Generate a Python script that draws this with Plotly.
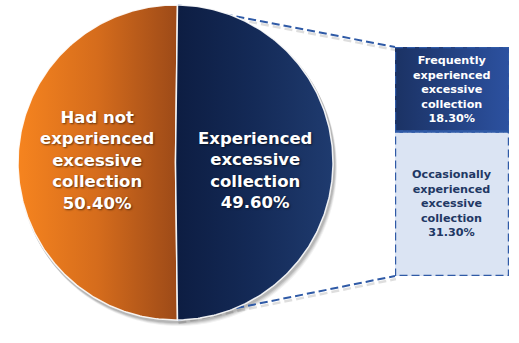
import numpy as np
import plotly.graph_objects as go

# ---- data ----
pie_labels = ["Had not<br>experienced<br>excessive<br>collection",
              "Experienced<br>excessive<br>collection"]
pie_values = [50.40, 49.60]

bar_labels = ["Frequently<br>experienced<br>excessive<br>collection",
              "Occasionally<br>experienced<br>excessive<br>collection"]
bar_values = [18.30, 31.30]

# ---- layout constants (pixels) ----
W, H = 519, 343
CX, CY, R = 175.5, 162.5, 157.5
BAR_LEFT, BAR_RIGHT, BAR_TOP, BAR_BOTTOM = 395, 509, 47, 276

BLUE_LINE = "#2f5aa6"
DASH = "8px,4px"

fig = go.Figure()


def arc(a0, a1, n=240, cx=CX, cy=CY, r=R):
    """Points on the circle, angles in degrees clockwise from 12 o'clock."""
    t = np.radians(np.linspace(a0, a1, n))
    return cx + r * np.sin(t), cy - r * np.cos(t)


# slice angles: the split slice is centred on the right side
total = sum(pie_values)
span_split = pie_values[1] / total * 360.0
a_start = 90 - span_split / 2
a_end = 90 + span_split / 2
slices = [
    (a_end, a_start + 360, ["#f6841f", "#d56c1c", "#9d4a18"]),   # orange slice
    (a_start, a_end, ["#0d1d42", "#142a57", "#1f3b6f"]),          # navy slice
]

# soft drop shadow under the pie
for off, alpha in [(5, 0.05), (4, 0.07), (3, 0.09), (2, 0.10)]:
    sx, sy = arc(0, 360, cx=CX + off * 0.6, cy=CY + off, r=R + 1.0)
    fig.add_trace(go.Scatter(x=sx, y=sy, fill="toself", mode="none",
                             fillcolor=f"rgba(0,0,0,{alpha})",
                             hoverinfo="skip", showlegend=False))

# connector shadows and connectors (pie covers their inner ends)
ends_pie = [arc(a_start, a_start, 1), arc(a_end, a_end, 1)]
bar_corners = [(BAR_LEFT, BAR_TOP), (BAR_LEFT, BAR_BOTTOM)]
for (px, py), (bx, by) in zip(ends_pie, bar_corners):
    fig.add_trace(go.Scatter(x=[px[0] + 1, bx + 1], y=[py[0] + 3, by + 3],
                             mode="lines",
                             line=dict(color="rgba(0,0,0,0.13)", width=2.5, dash=DASH),
                             hoverinfo="skip", showlegend=False))
    fig.add_trace(go.Scatter(x=[px[0], bx], y=[py[0], by], mode="lines",
                             line=dict(color=BLUE_LINE, width=2, dash=DASH),
                             hoverinfo="skip", showlegend=False))

# pie slices with horizontal gradients
for (a0, a1, cols), lab, val in zip(slices, pie_labels, pie_values):
    ax_, ay_ = arc(a0, a1)
    xs = np.concatenate([[CX], ax_, [CX]])
    ys = np.concatenate([[CY], ay_, [CY]])
    fig.add_trace(go.Scatter(
        x=xs, y=ys, fill="toself", mode="lines",
        line=dict(color="rgba(255,255,255,0.9)", width=1.5),
        fillgradient=dict(type="horizontal",
                          colorscale=[[0, cols[0]], [0.5, cols[1]], [1, cols[2]]]),
        name=lab.replace("<br>", " "), hoverinfo="name", showlegend=False))

# pie labels
pie_text_pos = [(97, 160), (255, 170)]
for lab, val, (tx, ty) in zip(pie_labels, pie_values, pie_text_pos):
    fig.add_annotation(
        x=tx, y=ty, xref="x", yref="y", showarrow=False,
        text=f"<b>{lab}<br>{val:.2f}%</b>", align="center",
        font=dict(family="DejaVu Sans", size=16.5, color="white",
                  shadow="1px 1px 2px rgba(0,0,0,0.55)"))

# ---- bar of the split slice (own axes) ----
bar_total = sum(bar_values)
bar_fills = [dict(type="horizontal", colorscale=[[0, "#1b3264"], [1, "#2c51a0"]]),
             None]
bar_solid = [None, "#dbe4f3"]
bar_text_col = ["white", "#1f3864"]

# bar shadow
fig.add_trace(go.Scatter(x=[0.03, 1.03, 1.03, 0.03, 0.03],
                         y=[2, 2, bar_total + 1.2, bar_total + 1.2, 2],
                         xaxis="x2", yaxis="y2", fill="toself", mode="none",
                         fillcolor="rgba(0,0,0,0.12)", hoverinfo="skip",
                         showlegend=False))

base = 0.0
for lab, val, grad, solid, tc in zip(bar_labels, bar_values, bar_fills,
                                     bar_solid, bar_text_col):
    y0, y1 = base, base + val
    kw = dict(fillgradient=grad) if grad else dict(fillcolor=solid)
    fig.add_trace(go.Scatter(x=[0, 1, 1, 0, 0], y=[y0, y0, y1, y1, y0],
                             xaxis="x2", yaxis="y2", fill="toself", mode="none",
                             name=lab.replace("<br>", " "), hoverinfo="name",
                             showlegend=False, **kw))
    fig.add_shape(type="rect", xref="x2", yref="y2", x0=0, x1=1, y0=y0, y1=y1,
                  line=dict(color=BLUE_LINE, width=2.4, dash=DASH), layer="above")
    fig.add_annotation(x=0.5, y=(y0 + y1) / 2, xref="x2", yref="y2",
                       showarrow=False, align="center",
                       text=f"<b>{lab}<br>{val:.2f}%</b>",
                       font=dict(family="DejaVu Sans", size=11.2, color=tc))
    base = y1

fig.update_layout(
    width=W, height=H, margin=dict(l=0, r=0, t=0, b=0),
    paper_bgcolor="white", plot_bgcolor="white",
    xaxis=dict(range=[0, W], visible=False, domain=[0, 1]),
    yaxis=dict(range=[H, 0], visible=False, domain=[0, 1]),
    xaxis2=dict(range=[0, 1], visible=False,
                domain=[BAR_LEFT / W, BAR_RIGHT / W], anchor="y2"),
    yaxis2=dict(range=[bar_total, 0], visible=False,
                domain=[1 - BAR_BOTTOM / H, 1 - BAR_TOP / H], anchor="x2"),
    showlegend=False,
)

fig.write_html("out.html")
